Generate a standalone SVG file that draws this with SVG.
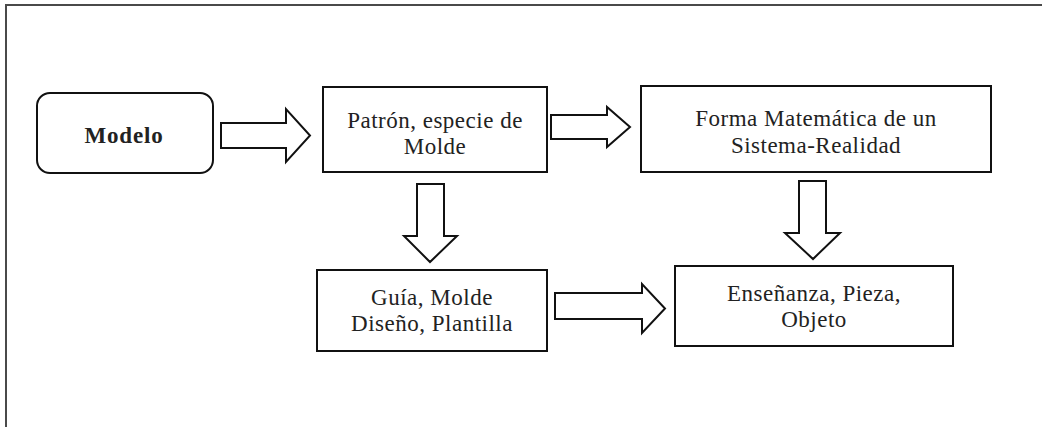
<svg xmlns="http://www.w3.org/2000/svg" width="1042" height="427" viewBox="0 0 1042 427">
  <style>
    .frame { fill: none; stroke: #4a4a4a; stroke-width: 2; }
    .box { fill: #ffffff; stroke: #111111; stroke-width: 2; }
    .arrow { fill: #ffffff; stroke: #111111; stroke-width: 2; stroke-linejoin: miter; }
    .lbl { font-family: "Liberation Serif", "Times New Roman", serif; font-size: 23px; letter-spacing: 0.5px; fill: #222222; text-anchor: middle; }
    .bold { font-weight: bold; font-size: 23px; letter-spacing: 0.8px; }
  </style>

  <rect width="1042" height="427" fill="#ffffff"/>

  <!-- outer frame: only the top and left edges fall inside the canvas -->
  <path class="frame" d="M6,427 V5 H1042"/>

  <g id="connectors">
    <polygon class="arrow" points="221,123 286,123 286,109 310,135.5 286,162 286,148 221,148"/>
    <polygon class="arrow" points="551,115 607,115 607,107 630,127 607,147 607,139 551,139"/>
    <polygon class="arrow" points="417,184 444,184 444,236 457,236 430,262 404,236 417,236"/>
    <polygon class="arrow" points="555,293 642,293 642,284 665,308.5 642,333 642,319 555,319"/>
    <polygon class="arrow" points="799,181 826,181 826,233 840,233 813,259 785,233 799,233"/>
  </g>

  <g id="modelo">
    <rect class="box" x="37" y="93" width="176" height="80" rx="13" ry="13"/>
    <text class="lbl bold" x="124" y="143">Modelo</text>
  </g>

  <g id="patron">
    <rect class="box" x="323" y="87" width="224" height="85"/>
    <text class="lbl" x="435" y="128">Patrón, especie de</text>
    <text class="lbl" x="435" y="154">Molde</text>
  </g>

  <g id="forma">
    <rect class="box" x="641" y="86" width="350" height="86"/>
    <text class="lbl" x="816" y="126">Forma Matemática de un</text>
    <text class="lbl" x="816" y="153">Sistema-Realidad</text>
  </g>

  <g id="guia">
    <rect class="box" x="317" y="270" width="230" height="81"/>
    <text class="lbl" x="432" y="305">Guía, Molde</text>
    <text class="lbl" x="432" y="331">Diseño, Plantilla</text>
  </g>

  <g id="ensenanza">
    <rect class="box" x="675" y="266" width="278" height="80"/>
    <text class="lbl" x="814" y="301">Enseñanza, Pieza,</text>
    <text class="lbl" x="814" y="327">Objeto</text>
  </g>
</svg>
